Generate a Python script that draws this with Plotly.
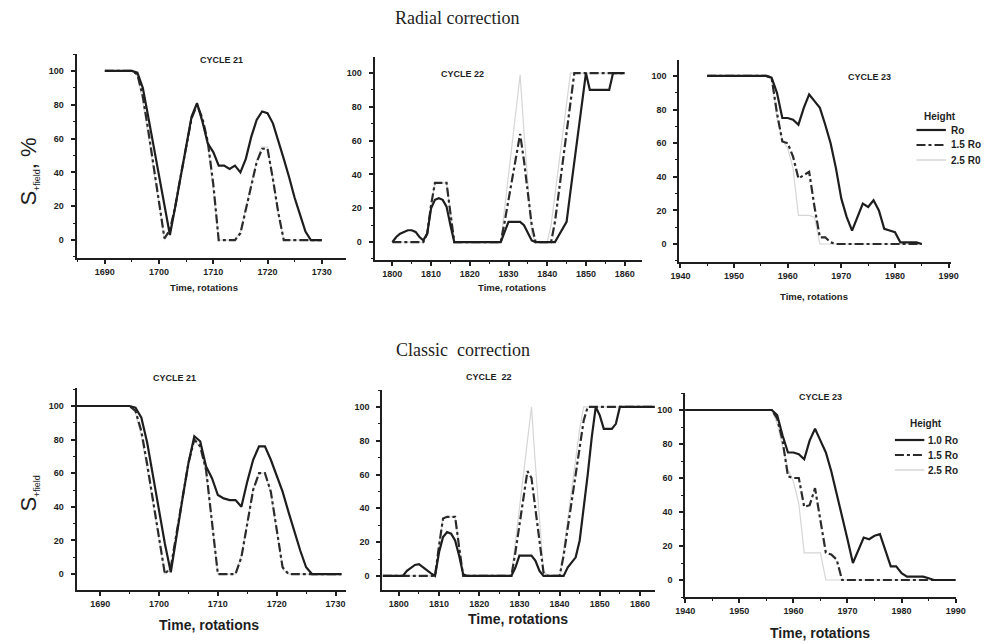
import plotly.graph_objects as go

W, H = 999, 644

# ---------------- data ----------------
# Radial correction, cycle 21
r21_x = list(range(1690, 1731))
r21_ro = [100, 100, 100, 100, 100, 100, 99, 90, 73, 55, 37, 20, 3, 20, 38, 56, 73, 81, 70, 57,
          52, 44, 44, 42, 44, 40, 48, 61, 71, 76, 75, 69, 59, 48, 37, 25, 15, 5, 0, 0, 0]
r21_15 = [100, 100, 100, 100, 100, 100, 98, 85, 65, 44, 22, 1, 6, 20, 38, 56, 72, 80, 72, 58,
          33, 0, 0, 0, 0, 4, 18, 32, 46, 54, 54, 36, 16, 0, 0, 0, 0, 0, 0, 0, 0]
r21_25 = [100, 100, 100, 100, 100, 100, 97, 82, 62, 41, 20, 0, 6, 20, 38, 56, 72, 79, 70, 55,
          30, 0, 0, 0, 0, 5, 19, 33, 47, 55, 55, 35, 15, 0, 0, 0, 0, 0, 0, 0, 0]

# Radial correction, cycle 22
r22_x = list(range(1800, 1861))
r22_ro = [0, 3, 5, 6, 7, 7, 6, 3, 1, 5, 20, 25, 26, 25, 21, 10, 0,
          0, 0, 0, 0, 0, 0, 0, 0, 0, 0, 0, 0,
          6, 12, 12, 12, 12, 10, 5, 1,
          0, 0, 0, 0, 0, 0,
          4, 8, 12, 30, 48, 66, 84, 100,
          90, 90, 90, 90, 90, 90,
          100, 100, 100, 100]
r22_15 = [0, 0, 0, 0, 0, 0, 0, 0, 0, 5, 22, 35, 35, 35, 35, 17, 0,
          0, 0, 0, 0, 0, 0, 0, 0, 0, 0, 0, 0,
          12, 25, 38, 52, 64, 48, 30, 10,
          0, 0, 0, 0, 0,
          12, 30, 48, 66, 85,
          100, 100, 100, 100, 100, 100, 100, 100, 100, 100, 100, 100, 100, 100]
r22_25 = [0, 0, 0, 0, 0, 0, 0, 0, 0, 5, 22, 35, 35, 35, 35, 17, 0,
          0, 0, 0, 0, 0, 0, 0, 0, 0, 0, 0, 0,
          20, 40, 60, 80, 99, 65, 35, 5,
          0, 0, 0, 0,
          10, 28, 46, 64, 82, 100,
          100, 100, 100, 100, 100, 100, 100, 100, 100, 100, 100, 100, 100, 100]

# Radial correction, cycle 23
r23_x = list(range(1945, 1986))
r23_ro = [100] * 12 + [99, 90, 75, 75, 74, 71, 81, 89, 85, 81, 71, 60, 45, 27, 16, 8, 16, 24,
                       22, 26, 20, 9, 8, 7, 1, 1, 1, 1, 0]
r23_15 = [100] * 12 + [99, 78, 61, 60, 52, 39, 41, 43, 22, 4, 4, 1] + [0] * 17
r23_25 = [100] * 12 + [98, 75, 62, 57, 45, 17, 17, 17, 16, 0] + [0] * 19

# Classic correction, cycle 21
c21_x = list(range(1686, 1732))
c21_ro = [100] * 10 + [99, 93, 78, 58, 38, 18, 1, 24, 45, 66, 82, 79, 64, 57, 47, 45, 44, 44,
                       40, 55, 68, 76, 76, 68, 59, 49, 37, 25, 14, 4] + [0] * 6
c21_15 = [100] * 10 + [97, 85, 65, 44, 22, 0, 4, 24, 45, 66, 80, 76, 62, 30, 0, 0, 0, 0,
                       10, 30, 50, 60, 60, 49, 27, 4] + [0] * 10
c21_25 = [100] * 10 + [96, 82, 62, 41, 20, 0, 4, 24, 45, 66, 80, 75, 60, 28, 0, 0, 0, 0,
                       11, 31, 51, 60, 60, 48, 26, 3] + [0] * 10

# Classic correction, cycle 22
c22_x = list(range(1796, 1865))
c22_ro = [0] * 6 + [3, 5, 6.5, 7, 5, 3, 1.5, 0, 14, 23, 26, 25, 21, 12, 1] + [0] * 12 + \
         [5, 12, 12, 12, 12, 9, 3] + [0] * 6 + \
         [5, 8, 11, 21, 40, 60, 82, 100, 95, 87, 87, 87, 90] + [100] * 10
c22_15 = [0] * 14 + [18, 34, 35, 35, 35, 17, 0] + [0] * 12 + \
         [14, 30, 46, 62, 58, 40, 20, 2] + [0] * 4 + \
         [12, 28, 44, 60, 76, 92] + [100] * 18
c22_25 = [0] * 14 + [18, 34, 35, 35, 35, 17, 0] + [0] * 12 + \
         [20, 40, 60, 80, 100, 65, 33, 3] + [0] * 4 + \
         [15, 33, 51, 69, 87, 100] + [100] * 18

# Classic correction, cycle 23
c23_x = list(range(1940, 1991))
c23_ro = [100] * 17 + [97, 85, 75, 75, 74, 71, 82, 89, 82, 75, 64, 51, 38, 24, 10, 18, 25, 24,
                       26, 27, 17, 8, 8, 4, 2, 2, 2, 2, 1] + [0] * 5
c23_15 = [100] * 17 + [95, 82, 61, 60, 60, 43, 44, 54, 35, 16, 15, 12] + [0] * 22
c23_25 = [100] * 17 + [92, 78, 65, 58, 45, 16, 16, 16, 16, 0] + [0] * 24

top_names = ["Ro", "1.5 Ro", "2.5 R0"]
bot_names = ["1.0 Ro", "1.5 Ro", "2.5 Ro"]
legend_title = "Height"
cycle_titles = ["CYCLE 21", "CYCLE 22", "CYCLE 23", "CYCLE 21", "CYCLE  22", "CYCLE 23"]

panels = [
    (r21_x, r21_ro, r21_15, r21_25),
    (r22_x, r22_ro, r22_15, r22_25),
    (r23_x, r23_ro, r23_15, r23_25),
    (c21_x, c21_ro, c21_15, c21_25),
    (c22_x, c22_ro, c22_15, c22_25),
    (c23_x, c23_ro, c23_15, c23_25),
]

# ---------------- layout geometry (pixels) ----------------
boxes = [
    (68, 343, 54, 258), (372, 645, 57, 260), (683, 960, 60, 262),
    (68, 343, 388, 590), (380, 658, 390, 590), (689, 965, 393, 597),
]
xranges = [[1684.8, 1734.5], [1795.4, 1864.5], [1939.8, 1990.4],
           [1686.0, 1731.8], [1795.9, 1863.7], [1940.0, 1990.0]]
yranges = [[-10.6, 110], [-10.6, 109.5], [-10.7, 109.5],
           [-9.5, 110.7], [-8.3, 110], [-10, 110]]
x_tick0 = [1690, 1800, 1940, 1690, 1800, 1940]

INK = "#1e1e1e"
GRAY = "#d6d6d6"
FONT = "Liberation Sans"

line_styles = [
    dict(color=INK, width=2.2, dash="solid"),
    dict(color="#2b2b2b", width=2.2, dash="dashdot"),
    dict(color=GRAY, width=1.2, dash="solid"),
]

fig = go.Figure()

for i, (xs, ro, r15, r25) in enumerate(panels):
    ax = "" if i == 0 else str(i + 1)
    names = top_names if i < 3 else bot_names
    for ys, nm, line in [(r25, names[2], line_styles[2]),
                         (r15, names[1], line_styles[1]),
                         (ro, names[0], line_styles[0])]:
        fig.add_trace(go.Scatter(x=xs, y=ys, mode="lines", name=nm, line=line,
                                 xaxis="x" + ax, yaxis="y" + ax, showlegend=False))

axis_common = dict(showline=True, linewidth=2, linecolor=INK, showgrid=False, zeroline=False,
                   ticks="outside", ticklen=4, tickwidth=1.5, tickcolor=INK,
                   tickfont=dict(family=FONT, size=9, color=INK, weight=700))

layout = {}
for i, (x0, x1, yt, yb) in enumerate(boxes):
    ax = "" if i == 0 else str(i + 1)
    layout["xaxis" + ax] = dict(
        axis_common, domain=[x0 / W, x1 / W], range=xranges[i], anchor="y" + ax,
        tick0=x_tick0[i], dtick=10,
        minor=dict(ticks="outside", ticklen=2, tickwidth=1, tickcolor=INK, dtick=5),
    )
    layout["yaxis" + ax] = dict(
        axis_common, domain=[1 - yb / H, 1 - yt / H], range=yranges[i], anchor="x" + ax,
        tick0=0, dtick=20, ticklabelstandoff=5,
        minor=dict(ticks="outside", ticklen=2, tickwidth=1, tickcolor=INK, dtick=10),
    )

fig.update_layout(**layout)

ann = []


def add_text(txt, x, y, size, family=FONT, weight=700, angle=0, color=INK, xanchor="center"):
    ann.append(dict(text=txt, x=x / W, y=1 - y / H, xref="paper", yref="paper",
                    showarrow=False, textangle=angle, xanchor=xanchor, yanchor="middle",
                    font=dict(family=family, size=size, color=color, weight=weight)))


add_text("Radial correction", 456, 18, 18, family="Liberation Serif", weight=400)
add_text("Classic  correction", 462, 350, 18, family="Liberation Serif", weight=400)

cyc_pos = [(216, 60), (462, 74), (877, 77), (168, 378), (489, 377), (827, 397)]
for t, (cx, cy) in zip(cycle_titles, cyc_pos):
    add_text(t, cx, cy, 9)

time_pos = [(198, 287, 9.5), (512, 287, 9.5), (820, 297, 9.5),
            (203, 625, 14), (518, 619, 14), (827, 633, 14)]
for (tx, ty, ts) in time_pos:
    add_text("Time, rotations", tx, ty, ts)

add_text("S<sub><span style='font-size:9px'>+field</span></sub>, %", 20, 172, 22, weight=400, angle=-90)
add_text("S<sub><span style='font-size:9px'>+field</span></sub>", 20, 494, 22, weight=400, angle=-90)

# ---- legends (key glyphs + labels) ----
shapes = []
legend_specs = [
    ((949, 116), 925, 955, 958, 130, top_names),
    ((935, 423), 903, 933, 935, 440, bot_names),
]
for (tcx, tcy), lx0, lx1, tx, y0, names in legend_specs:
    add_text(legend_title, tcx, tcy, 10)
    for k, nm in enumerate(names):
        yy = y0 + 15 * k
        st = line_styles[k]
        shapes.append(dict(type="line", xref="paper", yref="paper",
                           x0=lx0 / W, x1=lx1 / W, y0=1 - yy / H, y1=1 - yy / H,
                           line=dict(color=st["color"], width=st["width"] if k < 2 else 1.5,
                                     dash=st["dash"])))
        add_text(nm, tx, yy, 10, xanchor="left")

fig.update_layout(
    annotations=ann,
    shapes=shapes,
    width=W, height=H,
    margin=dict(l=0, r=0, t=0, b=0),
    paper_bgcolor="white", plot_bgcolor="white",
    showlegend=False,
)

fig.write_html("out.html")
